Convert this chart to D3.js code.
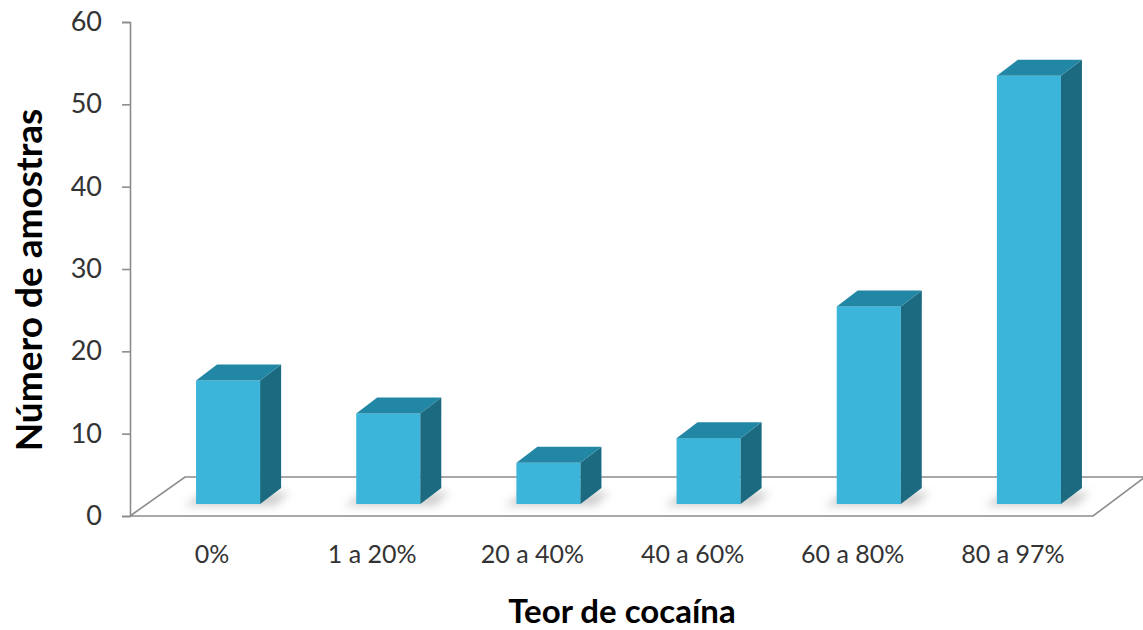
<!DOCTYPE html>
<meta charset="utf-8">
<head>
<script src="https://cdn.jsdelivr.net/npm/d3@7"></script>
<style>
  body { margin: 0; background: #fff; }
  text { font-family: Lato, "Open Sans", sans-serif; }
</style>
</head>
<body>
<div id="chart"></div>
<script>
// data
var categories = ["0%", "1 a 20%", "20 a 40%", "40 a 60%", "60 a 80%", "80 a 97%"];
var counts = [15, 11, 5, 8, 24, 52];
var yTicks = [0, 10, 20, 30, 40, 50, 60];

var width = 1143, height = 630;
var svg = d3.select("#chart").append("svg")
    .attr("width", width)
    .attr("height", height);

var defs = svg.append("defs");
defs.append("filter").attr("id", "blur")
    .attr("x", "-50%").attr("y", "-50%").attr("width", "200%").attr("height", "200%")
    .append("feGaussianBlur").attr("stdDeviation", 4);

var y = d3.scaleLinear().domain([0, 60]).range([516, 22]);
var x = d3.scaleBand().domain(categories).range([148, 1109])
    .paddingInner(0.6).paddingOuter(0.3);

// floor depth and bar depth
var fdx = 52, fdy = -39;
var bdx = 21, bdy = -16;
var lift = 12; // bars sit a bit behind the front edge

// floor
var floor = svg.append("g").attr("fill", "none").attr("stroke", "#8c8c8c").attr("stroke-width", 1.6);
floor.append("path")
    .attr("d", "M130," + y(0) + "L1093," + y(0) + "L" + (1093 + fdx) + "," + (y(0) + fdy) +
      "L" + (130 + fdx + 3) + "," + (y(0) + fdy) + "L130," + y(0));

// y axis
var axis = svg.append("g").attr("transform", "translate(130,0)")
    .call(d3.axisLeft(y).tickValues(yTicks).tickSize(8).tickPadding(20));
axis.select(".domain").attr("stroke", "#8c8c8c").attr("stroke-width", 1.6);
axis.selectAll(".tick line").attr("stroke", "#8c8c8c").attr("stroke-width", 1.6);
axis.selectAll(".tick text").attr("fill", "#333")
    .attr("font-size", 27)
    .attr("font-family", "Lato, 'Open Sans', sans-serif");

// bars
var bars = svg.append("g").selectAll("g").data(categories).enter().append("g");

bars.append("path")
    .attr("filter", "url(#blur)")
    .attr("fill", "#a8a8a8")
    .attr("opacity", 0.55)
    .attr("d", function(d) {
      var x0 = x(d) - 12, x1 = x(d) + x.bandwidth() + bdx + 8;
      var yb = y(0) - lift;
      return "M" + x0 + "," + (yb + 2) + "L" + (x1 - 14) + "," + (yb + 2) + "L" + x1 + "," + (yb - 12) +
        "L" + (x0 + 20) + "," + (yb - 12) + "Z";
    });

// front face
bars.append("rect")
    .attr("x", function(d) { return x(d); })
    .attr("y", function(d, i) { return y(counts[i]) - lift; })
    .attr("width", x.bandwidth())
    .attr("height", function(d, i) { return y(0) - y(counts[i]); })
    .attr("fill", "#3cb5da");

// side face
bars.append("path")
    .attr("fill", "#1b6a80")
    .attr("d", function(d, i) {
      var xr = x(d) + x.bandwidth(), yt = y(counts[i]) - lift, yb = y(0) - lift;
      return "M" + xr + "," + yt + "L" + (xr + bdx) + "," + (yt + bdy) +
        "L" + (xr + bdx) + "," + (yb + bdy) + "L" + xr + "," + yb + "Z";
    });

// top face
bars.append("path")
    .attr("fill", "#2287a5")
    .attr("d", function(d, i) {
      var xl = x(d), xr = xl + x.bandwidth(), yt = y(counts[i]) - lift;
      return "M" + xl + "," + yt + "L" + (xl + bdx) + "," + (yt + bdy) +
        "L" + (xr + bdx) + "," + (yt + bdy) + "L" + xr + "," + yt + "Z";
    });

// category labels
svg.append("g").selectAll("text").data(categories).enter().append("text")
    .attr("x", function(d) { return x(d) + x.bandwidth() / 2 - 16; })
    .attr("y", 563)
    .attr("text-anchor", "middle")
    .attr("fill", "#333")
    .style("font-size", "25px")
    .text(function(d) { return d; });

// axis titles
svg.append("text")
    .attr("x", 622).attr("y", 623)
    .attr("text-anchor", "middle")
    .attr("fill", "#000")
    .style("font-size", "33px").style("font-weight", "bold")
    .text("Teor de cocaína");

svg.append("text")
    .attr("transform", "translate(42,280) rotate(-90)")
    .attr("text-anchor", "middle")
    .attr("fill", "#000")
    .style("font-size", "37px").style("font-weight", "bold")
    .text("Número de amostras");
</script>
</body>
</html>
